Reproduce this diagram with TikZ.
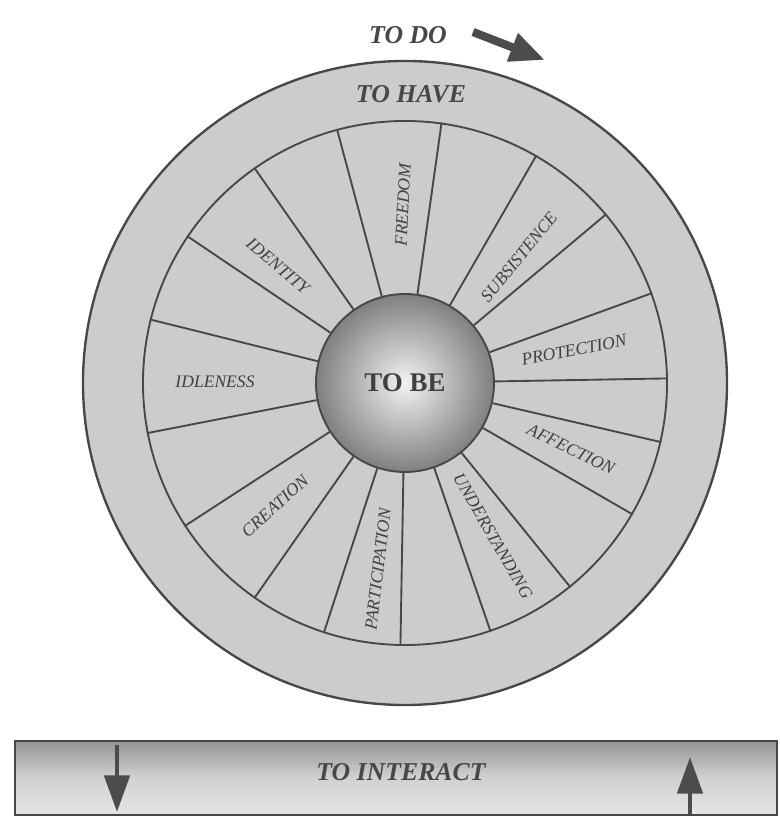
\documentclass[tikz,border=0pt]{standalone}
\usepackage{fontspec}
\setmainfont{Liberation Serif}
\usepackage{xcolor}
\usetikzlibrary{arrows.meta,shapes}

\begin{document}
\begin{tikzpicture}[x=0.03cm, y=0.03cm, wheel/.style={circle, draw=black!72, fill=black!20, inner sep=0pt, line width=1.6pt}, ball/.style={circle, draw=black!72, line width=1.6pt, inner sep=0pt, minimum size=5.34cm, inner color=black!5, outer color=black!50, text=black!75, font=\fontsize{23}{23}\selectfont\bfseries}, spoke/.style={draw=black!72, line width=1.6pt}, lbl/.style={font=\fontsize{15}{15}\selectfont\itshape, text=black!75}, big/.style={font=\fontsize{22}{22}\selectfont\bfseries\itshape, text=black!72}, box/.style={draw=black!72, line width=2pt, minimum width=22.86cm, minimum height=2.22cm, top color=black!42, bottom color=black!10, middle color=black!18}, fat arrow/.style={draw=black!70, line width=4.2pt, -{Triangle[length=1.1cm,width=0.75cm]}}]
\useasboundingbox (0,0) rectangle (780,831);
\node[wheel, line width=2pt, minimum size=19.32cm] (have) at (405,448) {};
\node[wheel, minimum size=15.72cm] (ring) at (405,448) {};
\node[ball] (be) at (405,448) {TO BE};
\foreach \a in {105,82,60,40,20,1,-13,-30,-51,-71,-91,-108,-125,-147,-169,166,146,125}
  \draw[spoke] (be.\a) -- (ring.\a);
\node[lbl, rotate=87] (freedom) at (403,626) {FREEDOM};
\node[lbl, rotate=51] (subsistence) at (519,574) {SUBSISTENCE};
\node[lbl, rotate=11] (protection) at (574,481) {PROTECTION};
\node[lbl, rotate=-26] (affection) at (571,382) {AFFECTION};
\node[lbl, rotate=-60] (understanding) at (493,295) {UNDERSTANDING};
\node[lbl, rotate=83] (participation) at (378,262) {PARTICIPATION};
\node[lbl, rotate=42] (creation) at (275,325) {CREATION};
\node[lbl] (idleness) at (215,449) {IDLENESS};
\node[lbl, rotate=-40] (identity) at (278,565) {IDENTITY};
\node[big] (tohave) at (411,737) {TO HAVE};
\node[big] (todo) at (408,796) {TO DO};
\coordinate (d0) at (473,799);
\coordinate (d1) at (545,771);
\draw[fat arrow, line width=7pt, -{Triangle[length=1.05cm,width=0.85cm]}] (d0) -- (d1);
\node[box] (act) at (396,53) {};
\node[big] (interact) at (401,59) {TO INTERACT};
\coordinate (a0) at (117,86);
\coordinate (a1) at (117,19);
\coordinate (b0) at (690,16);
\coordinate (b1) at (690,74);
\draw[fat arrow] (a0) -- (a1);
\draw[fat arrow] (b0) -- (b1);
\end{tikzpicture}
\end{document}
